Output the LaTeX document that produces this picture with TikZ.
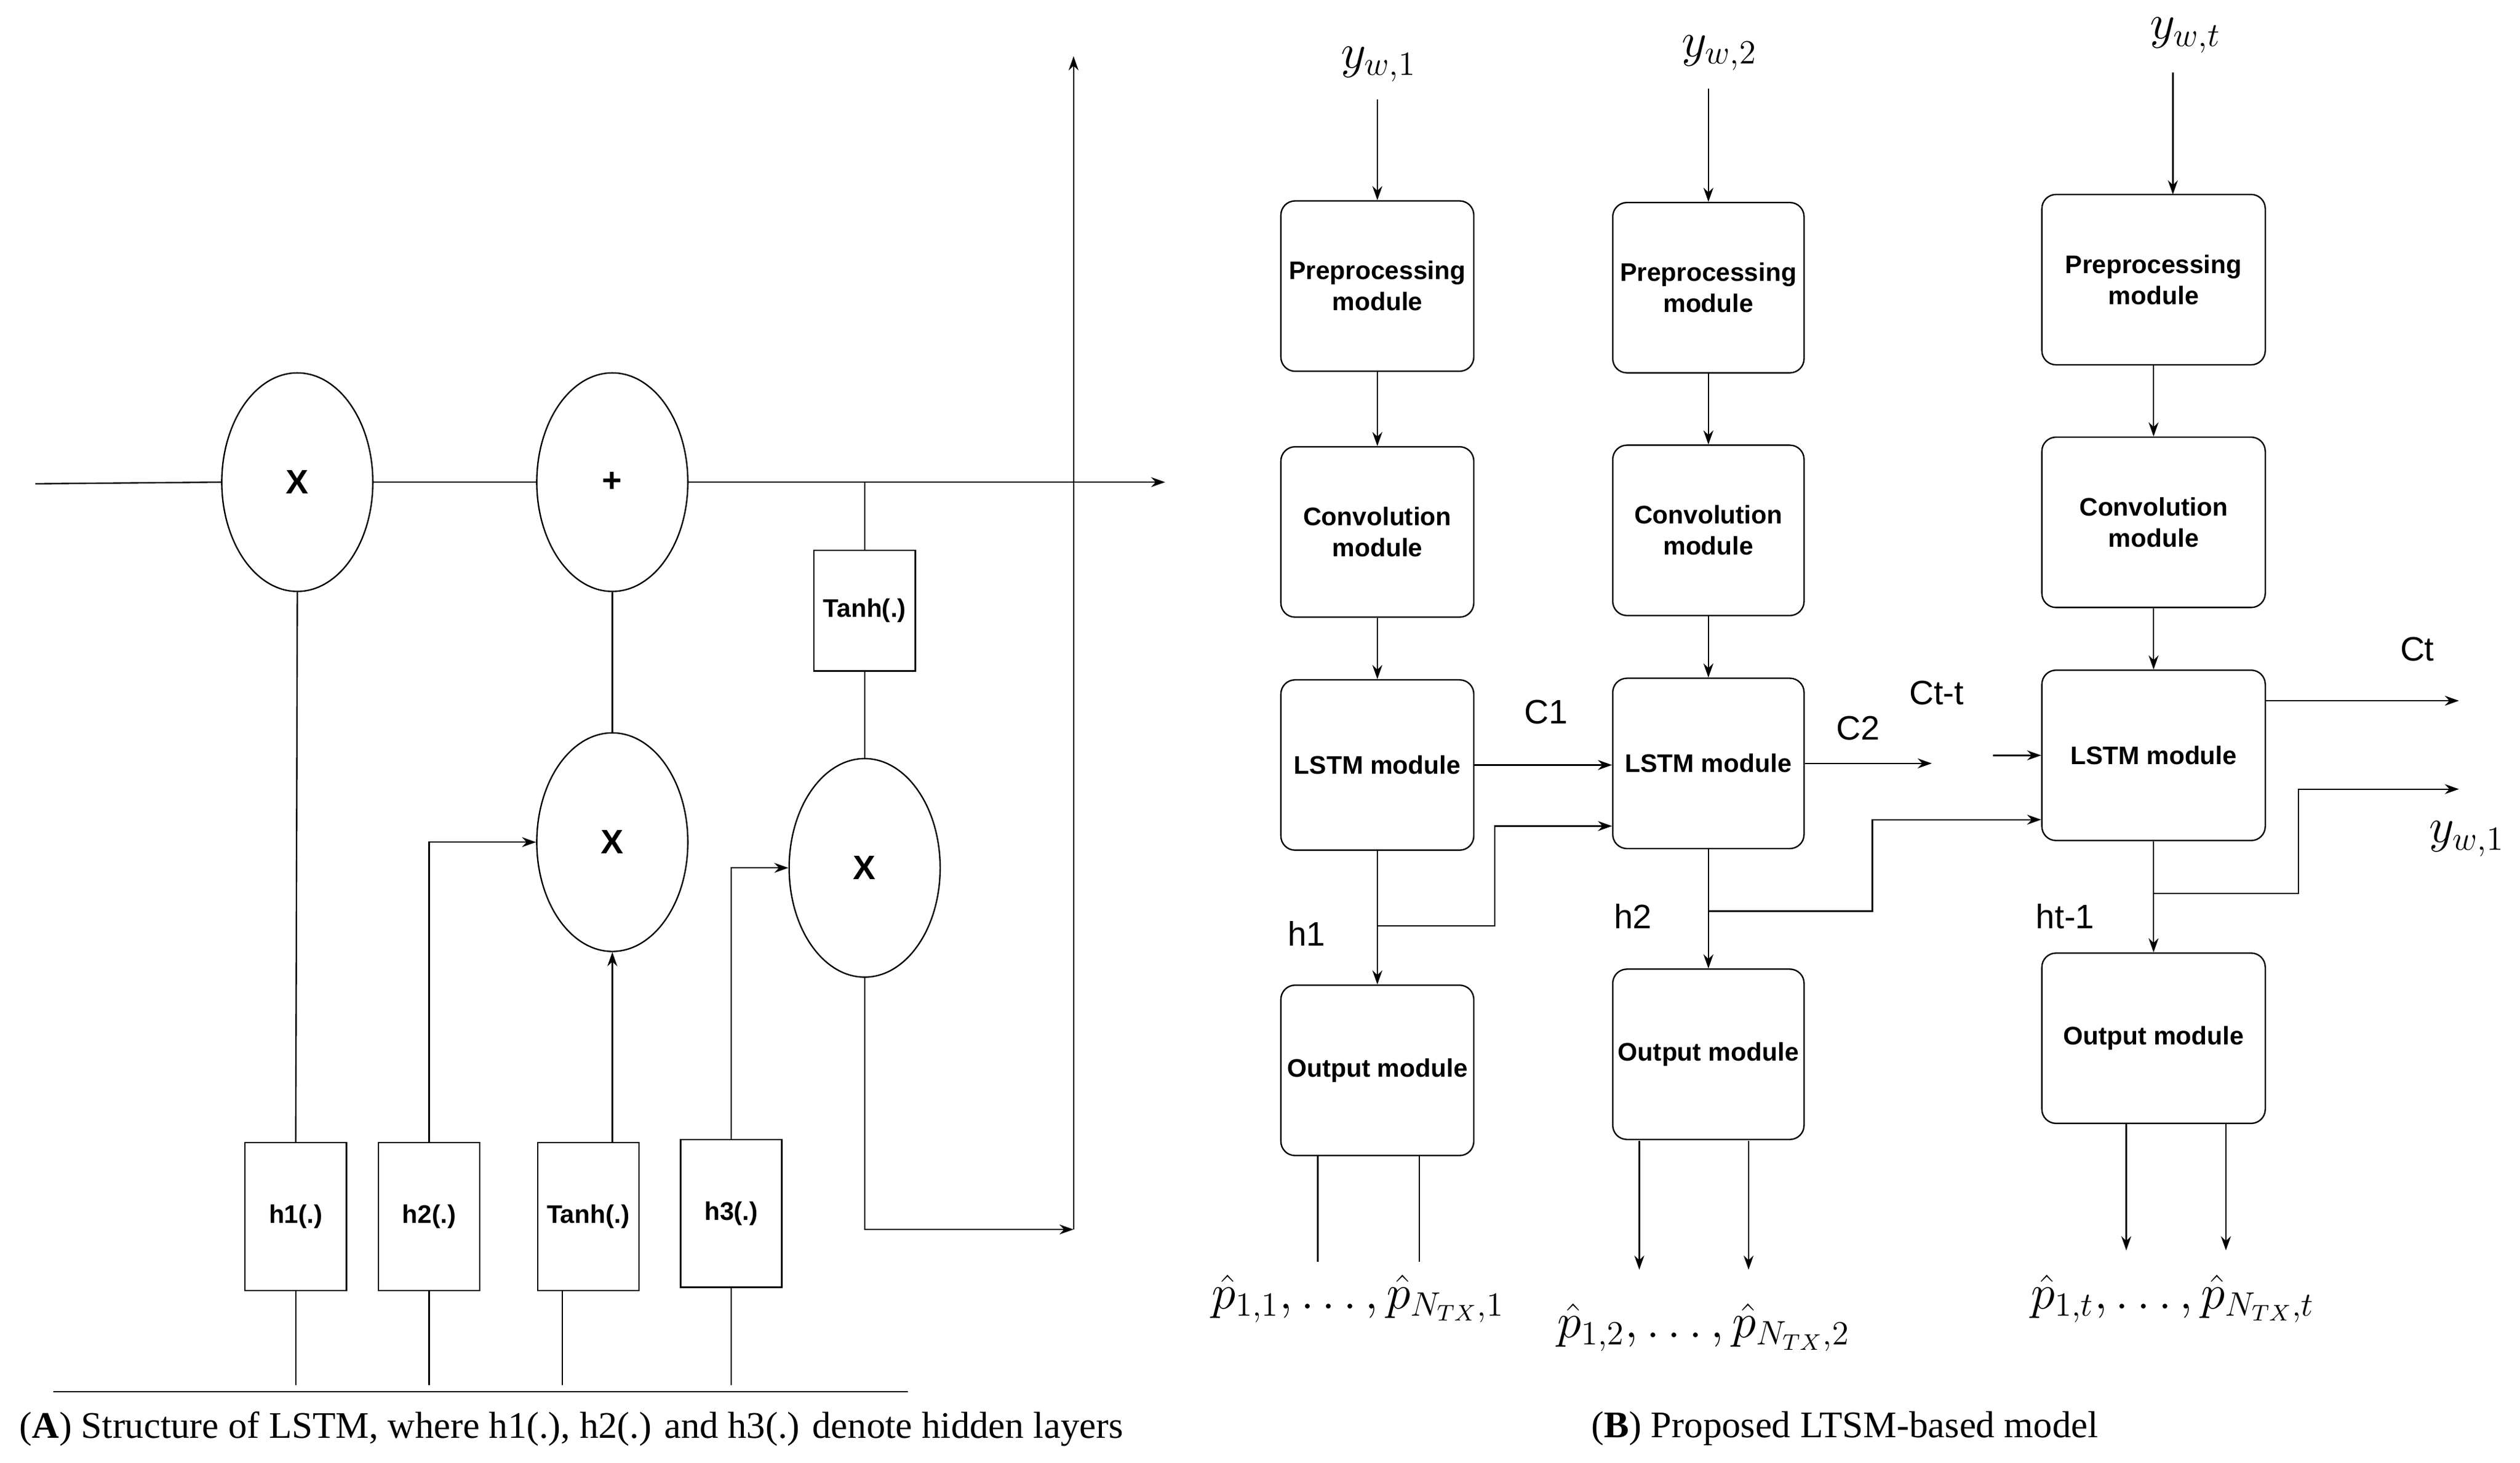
\documentclass[tikz,border=0pt]{standalone}
\usepackage{fontspec}
\setmainfont{Liberation Serif}
\newfontfamily\sans{Liberation Sans}
\usetikzlibrary{arrows.meta,shapes.geometric}
\begin{document}
\begin{tikzpicture}[x=0.02cm,y=-0.02cm,line width=0.5pt,
  >={Stealth[length=5pt,width=3.5pt]},
  ell/.style={draw,ellipse,minimum width=1.88cm,minimum height=2.72cm,font=\sans\bfseries\large,inner sep=0},
  sbox/.style={draw,minimum width=1.26cm,minimum height=1.84cm,font=\sans\bfseries\small,inner sep=0},
  mod/.style={draw,rounded corners=5pt,align=center,font=\sans\bfseries\small,inner sep=0},
  lab/.style={font=\sans\large},
  ml/.style={font=\fontsize{17}{20}\selectfont},
  captxt/.style={anchor=west,font=\fontsize{13.3}{16}\selectfont}]
\useasboundingbox (0,0) rectangle (1568,910);
% ---- left panel ----
\coordinate (L0) at (22,301);
\node[ell] (X1) at (185,300) {X};
\node[ell] (P) at (381,300) {+};
\node[ell] (X2) at (381,524) {X};
\node[ell] (X3) at (538,540) {X};
\node[sbox,minimum height=1.5cm] (T1) at (538,380) {Tanh(.)};
\node[sbox] (H1) at (184,757) {h1(.)};
\node[sbox] (H2) at (267,757) {h2(.)};
\node[sbox] (T2) at (366,757) {Tanh(.)};
\node[sbox] (H3) at (455,755) {h3(.)};
\coordinate (OutR) at (725,300);
\coordinate (Vb) at (668,765);
\coordinate (Vt) at (668,35);
\draw (L0) -- (X1.west);
\draw (X1.east) -- (P.west);
\draw[->] (P.east) -- (OutR);
\draw[->] (Vb) -- (Vt);
\draw (538,300) -- (T1.north);
\draw (T1.south) -- (X3.north);
\draw[->] (X3.south) |- (Vb);
\draw (X2.north) -- (P.south);
\draw (H1.north) -- (X1.south);
\draw[->] (H2.north) |- (X2.west);
\draw[->] (T2.north -| X2.south) -- (X2.south);
\draw[->] (H3.north) |- (X3.west);
\draw (H1.south) -- (184,862);
\draw (H2.south) -- (267,862);
\draw (350,803) -- (350,862);
\draw (H3.south) -- (455,862);
\draw (33,866) -- (565,866);
\node[captxt] (CA) at (6,889) {(\textbf{A}) Structure of LSTM, where h1(.), h2(.) and h3(.) denote hidden layers};
% ---- right panel ----
\foreach \n/\x/\w/\a/\b/\c/\d in {1/857/120/178/331/476/666, 2/1063/119/179/330/475/656, 3/1340/139/174/325/470/646}{
  \node[mod,minimum width=\w*0.02cm,minimum height=2.12cm] (Pre\n) at (\x,\a) {Preprocessing\\module};
  \node[mod,minimum width=\w*0.02cm,minimum height=2.12cm] (Con\n) at (\x,\b) {Convolution\\module};
  \node[mod,minimum width=\w*0.02cm,minimum height=2.12cm] (LS\n) at (\x,\c) {LSTM module};
  \node[mod,minimum width=\w*0.02cm,minimum height=2.12cm] (Out\n) at (\x,\d) {Output module};
  \draw[->] (Pre\n) -- (Con\n);
  \draw[->] (Con\n) -- (LS\n);
}
\node[ml] (Y1) at (858,40) {$y_{w,1}$};
\node[ml] (Y2) at (1070,33) {$y_{w,2}$};
\node[ml] (Y3) at (1360,22) {$y_{w,t}$};
\draw[->] (857,62) -- (Pre1.north);
\draw[->] (1063,55) -- (Pre2.north);
\draw[->] (1352,45) -- (1352,121);
\draw[->] (LS1.east) -- (LS2.west |- LS1.east);
\node[lab] (C1) at (962,443) {C1};
\coordinate (C2e) at (1202,475);
\draw[->] (LS2.east) -- (C2e);
\node[lab] (C2) at (1156,453) {C2};
\node[lab] (Ctt) at (1205,431) {Ct-t};
\coordinate (C3s) at (1240,470);
\draw[->] (C3s) -- (LS3.west |- C3s);
\coordinate (Cte) at (1530,436);
\draw[->] (LS3.east |- Cte) -- (Cte);
\node[lab] (Ct) at (1504,404) {Ct};
\draw[->] (LS1.south) -- (Out1.north);
\draw[->] (857,576) -- (930,576) -- (930,514) -- (LS2.west |- 0,514);
\node[lab] (h1) at (813,581) {h1};
\draw[->] (LS2.south) -- (Out2.north);
\draw[->] (1063,567) -- (1165,567) -- (1165,510) -- (LS3.west |- 0,510);
\node[lab] (h2) at (1016,570) {h2};
\draw[->] (LS3.south) -- (Out3.north);
\coordinate (Ywe) at (1530,491);
\draw[->] (1340,556) -- (1430,556) -- (1430,491) -- (Ywe);
\node[ml] (Yw1) at (1535,522) {$y_{w,1}$};
\node[lab] (h3) at (1285,570) {ht-1};
\draw (820,719) -- (820,785);
\draw (883,719) -- (883,785);
\draw[->] (1020,710) -- (1020,790);
\draw[->] (1088,710) -- (1088,790);
\draw[->] (1323,699) -- (1323,778);
\draw[->] (1385,699) -- (1385,778);
\node[ml] (O1) at (845,808) {$\hat p_{1,1},\ldots,\hat p_{N_{TX},1}$};
\node[ml] (O2) at (1060,826) {$\hat p_{1,2},\ldots,\hat p_{N_{TX},2}$};
\node[ml] (O3) at (1352,808) {$\hat p_{1,t},\ldots,\hat p_{N_{TX},t}$};
\node[captxt] (CB) at (984,889) {(\textbf{B}) Proposed LTSM-based model};
\end{tikzpicture}
\end{document}
